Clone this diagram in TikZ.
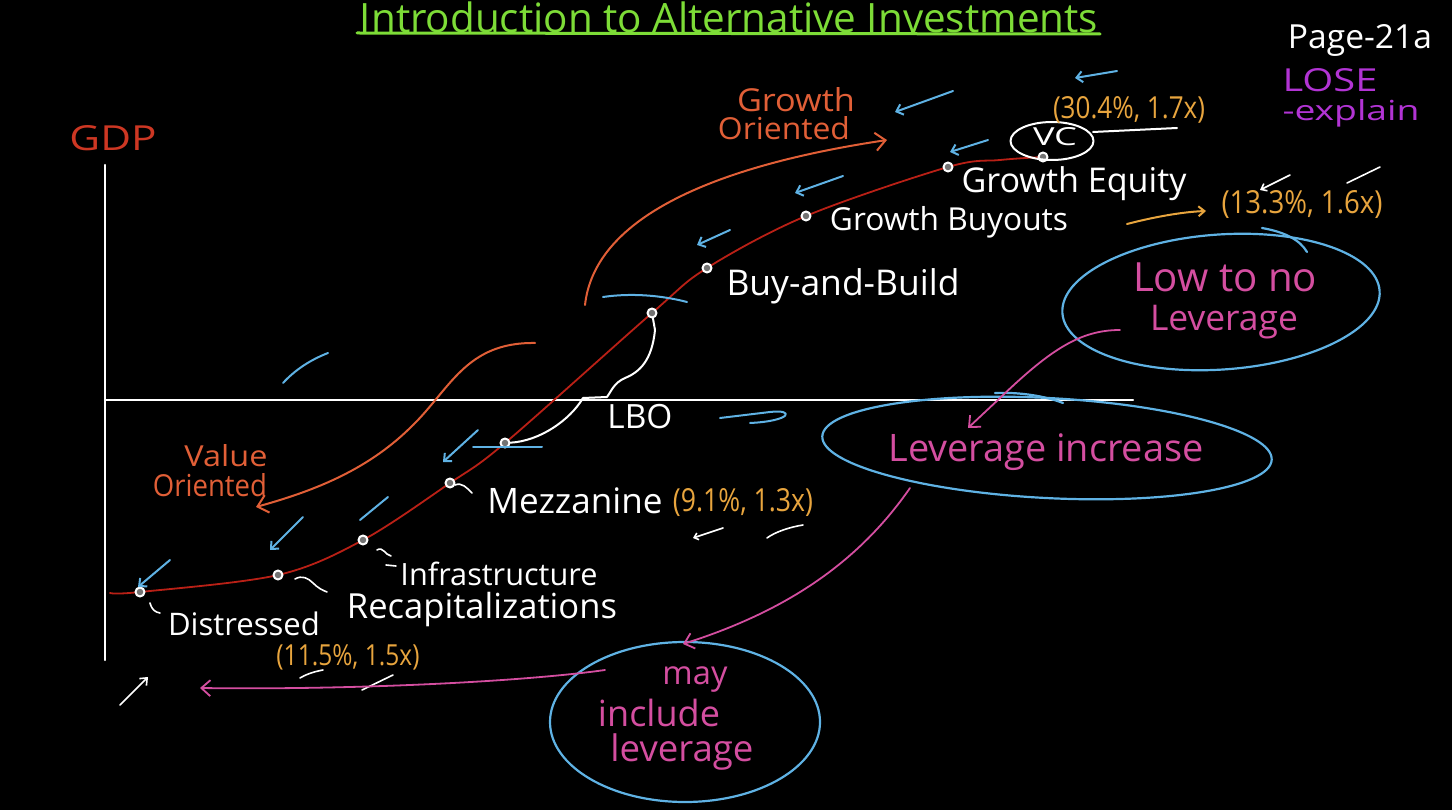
\documentclass[tikz,border=0pt]{standalone}
\usepackage{fontspec}
\usepackage{graphicx}
\setmainfont{Open Sans}
\usetikzlibrary{arrows.meta,shapes.geometric,calc}
\definecolor{titlegreen}{RGB}{125,220,55}
\definecolor{curvered}{RGB}{185,32,22}
\definecolor{gdpred}{RGB}{205,55,35}
\definecolor{orientorange}{RGB}{225,95,55}
\definecolor{numorange}{RGB}{232,165,62}
\definecolor{chalkblue}{RGB}{95,178,228}
\definecolor{chalkpink}{RGB}{212,78,160}
\definecolor{chalkpurple}{RGB}{178,52,212}
\newcommand{\fw}[2]{\resizebox{#1pt}{!}{#2}}
\newcommand{\fwh}[3]{\resizebox{#1pt}{#2pt}{#3}}
\begin{document}
\begin{tikzpicture}[x=1pt,y=-1pt,line cap=round,line join=round,
  txt/.style={inner sep=0pt,anchor=center},
  wtxt/.style={txt,text=white},
  ntxt/.style={txt,text=numorange},
  otxt/.style={txt,text=orientorange},
  ptxt/.style={txt,text=chalkpink},
  wline/.style={draw=white,line width=2pt},
  thinw/.style={draw=white,line width=1.6pt},
  bline/.style={draw=chalkblue,line width=2pt},
  barrow/.style={bline,-{Straight Barb[length=6pt,width=11pt]}},
  parrow/.style={draw=chalkpink,line width=1.8pt,-{Straight Barb[length=9pt,width=16pt]}},
  oarrow/.style={draw=orientorange,line width=2pt,-{Straight Barb[length=10pt,width=18pt]}},
  dot/.style={circle,draw=white,fill=black!55,line width=2pt,minimum size=9pt,inner sep=0pt},
  ring/.style={ellipse,draw=chalkblue,line width=2.2pt,inner sep=0pt},
]
\fill[black] (0,0) rectangle (1452,810);
\useasboundingbox (0,0) rectangle (1452,810);

% ---------- title ----------
\node[txt,text=titlegreen] (title) at (729,17) {\fw{738}{Introduction to Alternative Investments}};
\coordinate (ul1) at (357,33); \coordinate (ul2) at (1100,34);
\draw[titlegreen,line width=3pt] (ul1) -- (ul2);

% ---------- top right ----------
\node[wtxt] (page) at (1360,40) {\fwh{144}{24}{Page-21a}};
\node[txt,text=chalkpurple] (lose) at (1330,80) {\fwh{95}{23}{LOSE}};
\node[txt,text=chalkpurple] (expl) at (1351,113) {\fwh{137}{21}{-explain}};

% ---------- axes ----------
\node[txt,text=gdpred] (gdp) at (113,138) {\fwh{87}{25}{GDP}};
\coordinate (ytop) at (105,165); \coordinate (ybot) at (105,660);
\coordinate (xl) at (105,400); \coordinate (xr) at (1133,400);
\draw[wline,line width=2.4pt] (ytop) -- (ybot);
\draw[wline,line width=2.4pt] (xl) -- (xr);

% ---------- curve ----------
\coordinate (c0) at (110,593);
\coordinate (dis) at (140,592);
\coordinate (rec) at (278,575);
\coordinate (inf) at (363,540);
\coordinate (mez) at (450,483);
\coordinate (lboa) at (505,443);
\coordinate (lbob) at (652,313);
\coordinate (bab) at (707,268);
\coordinate (gb) at (806,216);
\coordinate (ge) at (948,167);
\coordinate (c1) at (1000,160);
\coordinate (vc) at (1043,157);
\draw[curvered,line width=1.8pt] plot[smooth,tension=0.55] coordinates {(c0) (dis) (rec) (inf) (mez) (lboa) (lbob) (bab) (gb) (ge) (c1) (vc)};

% ---------- orange arcs ----------
\node[otxt] (gro1) at (796,100) {\fwh{118}{24}{Growth}};
\node[otxt] (gro2) at (784,128) {\fwh{132}{23}{Oriented}};
\coordinate (gtail) at (585,305); \coordinate (ghead) at (887,140);
\draw[oarrow] (gtail) .. controls (595,215) and (720,165) .. (ghead);
\node[otxt] (val1) at (226,456) {\fwh{83}{22}{Value}};
\node[otxt] (val2) at (210,485) {\fwh{114}{23}{Oriented}};
\coordinate (vtail) at (535,343); \coordinate (vhead) at (256,507);
\draw[oarrow] (vtail) .. controls (465,342) and (450,390) .. (410,428) .. controls (365,472) and (310,492) .. (vhead);

% ---------- dots ----------
\foreach \p in {dis,rec,inf,mez,lboa,lbob,bab,gb,ge,vc} {\node[dot] (d-\p) at (\p) {};}

% ---------- white labels ----------
\node[wtxt] (tdis) at (244,624) {\fw{152}{Distressed}};
\node[wtxt] (trec) at (482,610) {\fw{270}{Recapitalizations}};
\node[wtxt] (tinf) at (499,574) {\fw{197}{Infrastructure}};
\node[wtxt] (tmez) at (575,501) {\fw{175}{Mezzanine}};
\node[wtxt] (tlbo) at (640,417) {\fw{65}{LBO}};
\node[wtxt] (tbab) at (843,286) {\fw{233}{Buy-and-Build}};
\node[wtxt] (tgb) at (949,222) {\fw{238}{Growth Buyouts}};
\node[wtxt] (tge) at (1074,184) {\fw{225}{Growth Equity}};
\node[ellipse,draw=white,line width=2pt,minimum width=83pt,minimum height=38pt,inner sep=0pt] (tvc) at (1052,141) {};
\node[wtxt] (vctxt) at (1055,137) {\fwh{44}{18}{VC}};

% small connectors
\draw[thinw] (150,603) .. controls (152,610) and (155,612) .. (160,613);
\draw[thinw] (295,579) .. controls (302,575) and (308,578) .. (313,583) .. controls (318,588) and (322,590) .. (327,592);
\draw[thinw] (377,550) .. controls (383,546) and (385,555) .. (391,556);
\draw[thinw] (386,565) -- (396,566);
\draw[thinw] (455,485) .. controls (462,482) and (467,488) .. (472,493);
\draw[wline] (d-lboa) .. controls (540,441) and (570,420) .. (583,398) -- (607,397) .. controls (612,390) and (614,383) .. (625,378) .. controls (640,372) and (652,360) .. (655,330) -- (d-lbob);
\coordinate (vcr) at (1093,132); \coordinate (vce) at (1177,128);
\draw[wline] (vcr) -- (vce);

% ---------- numbers ----------
\node[ntxt] (n30) at (1129,110) {\fwh{152}{22}{(30.4\%, 1.7x)}};
\node[ntxt] (n13) at (1302,205) {\fwh{161}{23}{(13.3\%, 1.6x)}};
\node[ntxt] (n9) at (743,503) {\fwh{140}{23}{(9.1\%, 1.3x)}};
\node[ntxt] (n11) at (348,657) {\fwh{143}{21}{(11.5\%, 1.5x)}};
\coordinate (oa1) at (1127,224); \coordinate (oa2) at (1206,211);
\draw[draw=numorange,line width=2pt,-{Straight Barb[length=6pt,width=10pt]}] (oa1) .. controls (1150,218) and (1180,212) .. (oa2);
% white tick marks
\draw[thinw,-{Straight Barb[length=5pt,width=8pt]}] (1290,175) -- (1260,190);
\draw[thinw] (1380,167) -- (1347,183);
\draw[thinw,-{Straight Barb[length=4pt,width=7pt]}] (723,528) -- (693,538);
\draw[thinw] (803,525) .. controls (790,527) and (775,532) .. (767,538);
\draw[thinw] (323,670) .. controls (312,672) and (305,675) .. (300,678);
\draw[thinw] (393,675) -- (362,690);
\coordinate (wa1) at (120,705); \coordinate (wa2) at (148,677);
\draw[thinw,-{Straight Barb[length=6pt,width=10pt]}] (wa1) -- (wa2);

% ---------- blue ticks ----------
\draw[barrow] (1117,71) -- (1075,78);
\draw[barrow] (953,91) -- (895,112);
\draw[barrow] (988,140) -- (950,152);
\draw[barrow] (843,176) -- (795,193);
\draw[barrow] (730,230) -- (697,245);
\draw[bline] (603,297) .. controls (630,293) and (660,295) .. (687,302);
\draw[bline] (328,353) .. controls (310,360) and (295,370) .. (283,383);
\draw[barrow] (478,430) -- (443,462);
\draw[bline] (473,447) -- (542,447);
\draw[bline] (388,497) -- (360,520);
\draw[barrow] (303,517) -- (270,550);
\draw[barrow] (170,560) -- (138,587);
\coordinate (lb1) at (720,418); \coordinate (lb2) at (750,423);
\draw[bline] (lb1) -- (770,412) .. controls (795,409) and (792,421) .. (lb2);

% ---------- ellipses ----------
\node[ring,minimum width=318pt,minimum height=135pt,rotate=4] (low) at (1221,302) {};
\draw[bline,line width=2.2pt] (1262,228) .. controls (1285,232) and (1300,240) .. (1307,252);
\node[ptxt] (low1) at (1225,277) {\fw{184}{Low to no}};
\node[ptxt] (low2) at (1224,322) {\fw{148}{Leverage}};

\node[ring,minimum width=450pt,minimum height=100pt,rotate=-3] (inc) at (1047,448) {};
\draw[bline,line width=2.2pt] (995,393) .. controls (1020,392) and (1045,396) .. (1063,403);
\node[ptxt] (inctxt) at (1046,452) {\fw{315}{Leverage increase}};

\node[ring,minimum width=270pt,minimum height=160pt] (may) at (685,722) {};
\node[ptxt] (may1) at (695,680) {\fw{65}{may}};
\node[ptxt] (may2) at (659,713) {\fw{122}{include}};
\node[ptxt] (may3) at (682,752) {\fw{143}{leverage}};

% ---------- pink arrows ----------
\coordinate (pa1s) at (1120,330); \coordinate (pa1e) at (968,428);
\draw[parrow] (pa1s) .. controls (1080,330) and (1050,350) .. (1000,398) -- (pa1e);
\coordinate (pa2s) at (910,488); \coordinate (pa2e) at (683,644);
\draw[parrow] (pa2s) .. controls (860,560) and (790,610) .. (pa2e);
\coordinate (pa3s) at (605,670); \coordinate (pa3e) at (200,688);
\draw[parrow] (pa3s) .. controls (520,682) and (350,690) .. (pa3e);
\end{tikzpicture}
\end{document}
